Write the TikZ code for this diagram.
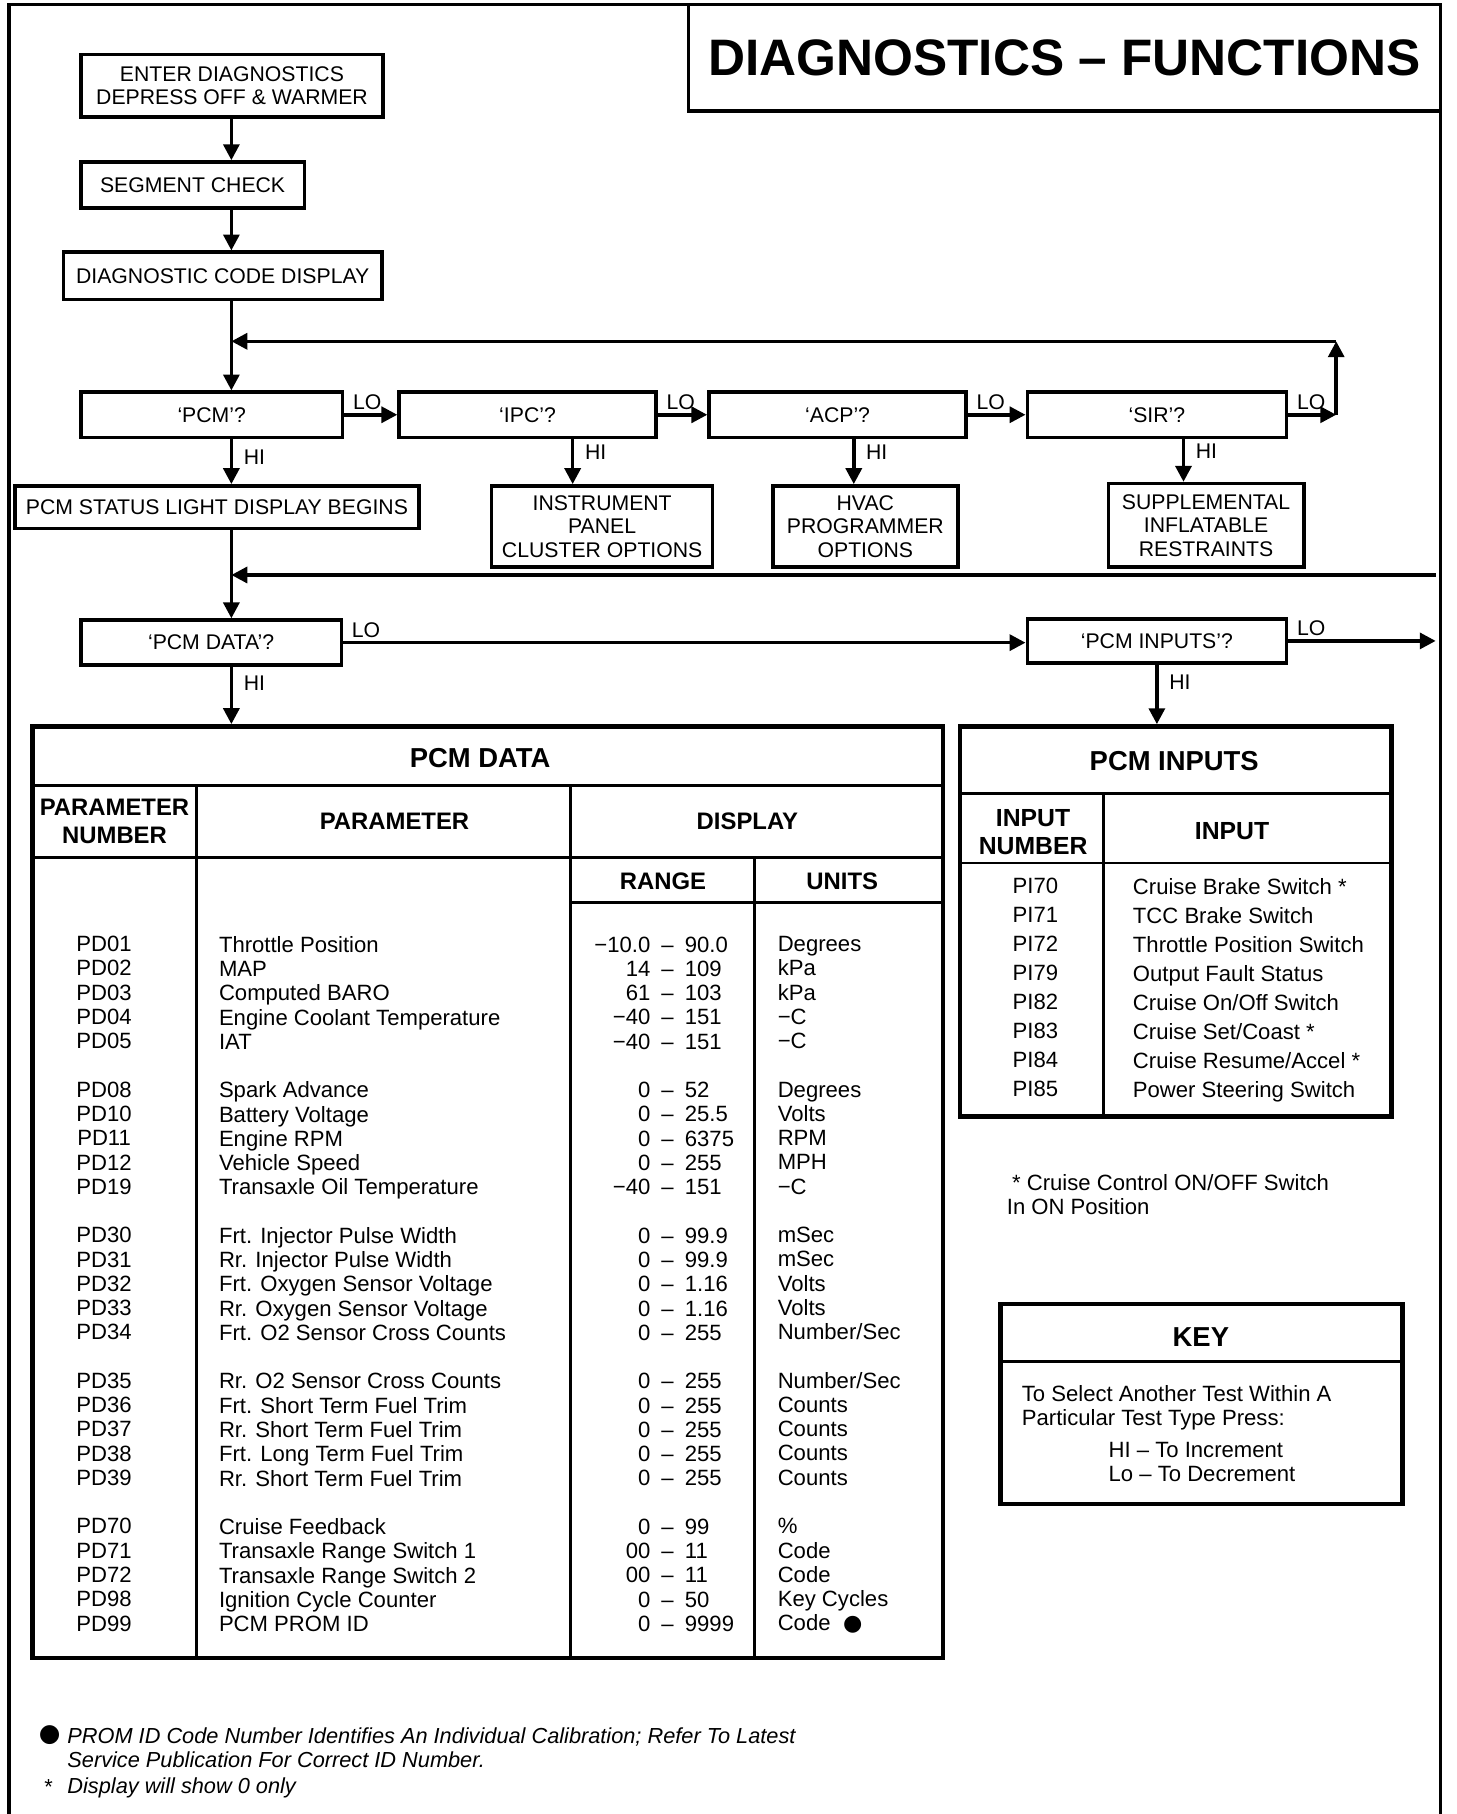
\documentclass[tikz,border=0pt]{standalone}
\usepackage{fontspec}
\setmainfont{Liberation Sans}
\newfontfamily\symfont{DejaVu Sans}
\usetikzlibrary{arrows.meta,positioning}

\begin{document}
\begin{tikzpicture}[x=0.023cm, y=-0.023cm,
  box/.style={draw, line width=2pt, inner sep=0pt, align=center, minimum height=0.897cm,
              font=\fontsize{12}{13.3}\selectfont},
  arr/.style={-{Triangle[length=9pt,width=9pt]}, line width=2pt},
  lo/.style={pos=0, anchor=south west, inner xsep=4pt, inner ysep=2pt,
             font=\fontsize{12}{13}\selectfont},
  hi/.style={pos=0.32, anchor=west, inner xsep=6pt, font=\fontsize{12}{13}\selectfont},
  tbl/.style={draw, line width=2.6pt, inner sep=0pt},
  rule/.style={line width=1.6pt},
  ttl/.style={font=\bfseries\fontsize{15.5}{18}\selectfont},
  head/.style={font=\bfseries\fontsize{13.5}{15.6}\selectfont, align=center},
  body/.style={font=\fontsize{12.5}{13.72}\selectfont, inner sep=0pt},
  note/.style={font=\fontsize{12.5}{13.7}\selectfont, inner sep=0pt, align=left}
]
  \useasboundingbox (0,0) rectangle (1259,1568);
  % page frame, open at the bottom
  \draw[line width=2pt] (8,1568) -- (8,4) -- (1245,4) -- (1245,1568);
  \node[draw, line width=2pt, minimum width=14.95cm, minimum height=2.116cm,
        font=\bfseries\fontsize{29}{32}\selectfont] (title) at (920,50) {DIAGNOSTICS – FUNCTIONS};

  % flow chart
  \node[box, minimum width=6.003cm, minimum height=1.242cm] (enter) at (200.5,74) {ENTER DIAGNOSTICS\\DEPRESS OFF \& WARMER};
  \node[box, minimum width=4.439cm, minimum height=0.92cm]  (seg)   at (166.5,160)  {SEGMENT CHECK};
  \node[box, minimum width=6.325cm, minimum height=0.943cm] (code)  at (192.5,238.5){DIAGNOSTIC CODE DISPLAY};
  \node[box, minimum width=5.198cm] (pcm) at (183,358.5)  {‘PCM’?};
  \node[box, minimum width=5.106cm] (ipc) at (456,358.5)  {‘IPC’?};
  \node[box, minimum width=5.106cm] (acp) at (724,358.5)  {‘ACP’?};
  \node[box, minimum width=5.152cm] (sir) at (1000,358.5) {‘SIR’?};
  \node[box, minimum width=8.027cm, minimum height=0.851cm] (status) at (187.5,438.5) {PCM STATUS LIGHT DISPLAY BEGINS};
  \node[box, minimum width=4.393cm, minimum height=1.61cm]  (inst)   at (520.5,455)   {INSTRUMENT\\PANEL\\CLUSTER OPTIONS};
  \node[box, minimum width=3.68cm,  minimum height=1.61cm]  (hvac)   at (748,455)     {HVAC\\PROGRAMMER\\OPTIONS};
  \node[box, minimum width=3.887cm, minimum height=1.656cm] (srs)    at (1042.5,454)  {SUPPLEMENTAL\\INFLATABLE\\RESTRAINTS};
  \node[box, minimum width=5.175cm] (pcmdata) at (182.5,555.5) {‘PCM DATA’?};
  \node[box, minimum width=5.152cm, minimum height=0.874cm] (pcmin) at (1000,554) {‘PCM INPUTS’?};

  \coordinate (spine)   at (200,0);
  \coordinate (ipcdrop) at (495,378);
  \coordinate (acpdrop) at (738,378);
  \coordinate (sirdrop) at (1023,378);
  \coordinate (sirout)  at (1155,358.5);
  \coordinate (looptop) at (1155,295);
  \coordinate (back)    at (1241,497);
  \coordinate (exit)    at (1241,554);

  % tables
  \node[tbl, minimum width=18.101cm, minimum height=18.515cm] (datatab) at (421.5,1030.5) {};
  \node[tbl, minimum width=8.579cm,  minimum height=7.751cm]  (intab)   at (1016.5,796.5) {};
  \node[tbl, minimum width=7.981cm,  minimum height=3.979cm]  (keybox)  at (1038.5,1213.5) {};

  \draw[arr] (spine |- enter.south) -- (spine |- seg.north);
  \draw[arr] (spine |- seg.south)   -- (spine |- code.north);
  \draw[arr] (spine |- code.south)  -- (spine |- pcm.north);
  \draw[arr] (pcm.east) -- node[lo]{LO} (ipc.west);
  \draw[arr] (ipc.east) -- node[lo]{LO} (acp.west);
  \draw[arr] (acp.east) -- node[lo]{LO} (sir.west);
  \draw[arr] (sir.east) -- node[lo]{LO} (sirout);
  \draw[arr] (sirout) -- (looptop);
  \draw[arr] (looptop) -- (spine |- looptop);
  \draw[arr] (spine |- pcm.south) -- node[hi, pos=0.4]{HI} (spine |- status.north);
  \draw[arr] (ipcdrop) -- node[hi]{HI} (ipcdrop |- inst.north);
  \draw[arr] (acpdrop) -- node[hi]{HI} (acpdrop |- hvac.north);
  \draw[arr] (sirdrop) -- node[hi]{HI} (sirdrop |- srs.north);
  \draw[arr] (spine |- status.south) -- (spine |- pcmdata.north);
  \draw[arr] (back) -- (spine |- back);
  \draw[arr] (pcmdata.east) -- node[lo]{LO} (pcmdata.east -| pcmin.west);
  \draw[arr] (pcmin.east) -- node[lo]{LO} (exit);
  \draw[arr] (spine |- pcmdata.south) -- node[hi, pos=0.28]{HI} (spine |- datatab.north);
  \draw[arr] (pcmin.south) -- node[hi, pos=0.3]{HI} (pcmin.south |- intab.north);

  % PCM DATA table
  \draw[rule] (28,679) -- (815,679);
  \draw[rule] (28,741) -- (815,741);
  \draw[rule] (493,780) -- (815,780);
  \draw[rule] (170,679) -- (170,1433);
  \draw[rule] (493,679) -- (493,1433);
  \draw[rule] (652,741) -- (652,1433);
  \node[ttl]  (datattl) at (415,655) {PCM DATA};
  \node[head] (pnumhd)  at (99,710)  {PARAMETER\\NUMBER};
  \node[head] (parhd)   at (341,710) {PARAMETER};
  \node[head] (disphd)  at (646,710) {DISPLAY};
  \node[head] (rangehd) at (573,762) {RANGE};
  \node[head] (unitshd) at (728,762) {UNITS};
  \node[body, anchor=north, align=center] (pnums) at (90,809)
    {PD01\\PD02\\PD03\\PD04\\PD05\\[13.72pt]PD08\\PD10\\PD11\\PD12\\PD19\\[13.72pt]%
     PD30\\PD31\\PD32\\PD33\\PD34\\[13.72pt]PD35\\PD36\\PD37\\PD38\\PD39\\[13.72pt]%
     PD70\\PD71\\PD72\\PD98\\PD99};
  \node[body, anchor=north west, align=left] (params) at (189,809)
    {Throttle Position\\MAP\\Computed BARO\\Engine Coolant Temperature\\IAT\\[13.72pt]%
     Spark Advance\\Battery Voltage\\Engine RPM\\Vehicle Speed\\Transaxle Oil Temperature\\[13.72pt]%
     Frt. Injector Pulse Width\\Rr. Injector Pulse Width\\Frt. Oxygen Sensor Voltage\\%
     Rr. Oxygen Sensor Voltage\\Frt. O2 Sensor Cross Counts\\[13.72pt]%
     Rr. O2 Sensor Cross Counts\\Frt. Short Term Fuel Trim\\Rr. Short Term Fuel Trim\\%
     Frt. Long Term Fuel Trim\\Rr. Short Term Fuel Trim\\[13.72pt]%
     Cruise Feedback\\Transaxle Range Switch 1\\Transaxle Range Switch 2\\%
     Ignition Cycle Counter\\PCM PROM ID};
  \node[body, anchor=north west] (ranges) at (513.5,808)
    {\begin{tabular}{@{}r@{\hspace{6.3pt}–\hspace{6.3pt}}l@{}}
     −10.0 & 90.0\\ 14 & 109\\ 61 & 103\\ −40 & 151\\ −40 & 151\\[13.72pt]
     0 & 52\\ 0 & 25.5\\ 0 & 6375\\ 0 & 255\\ −40 & 151\\[13.72pt]
     0 & 99.9\\ 0 & 99.9\\ 0 & 1.16\\ 0 & 1.16\\ 0 & 255\\[13.72pt]
     0 & 255\\ 0 & 255\\ 0 & 255\\ 0 & 255\\ 0 & 255\\[13.72pt]
     0 & 99\\ 00 & 11\\ 00 & 11\\ 0 & 50\\ 0 & 9999
     \end{tabular}};
  \node[body, anchor=north west, align=left] (units) at (672,809)
    {Degrees\\kPa\\kPa\\−C\\−C\\[13.72pt]Degrees\\Volts\\RPM\\MPH\\−C\\[13.72pt]%
     mSec\\mSec\\Volts\\Volts\\Number/Sec\\[13.72pt]Number/Sec\\Counts\\Counts\\Counts\\Counts\\[13.72pt]%
     \%\\Code\\Code\\Key Cycles\\Code\hspace{7pt}{\symfont ●}};

  % PCM INPUTS table
  \draw[rule] (830,686) -- (1203,686);
  \draw[rule] (830,746) -- (1203,746);
  \draw[rule] (954,686) -- (954,965);
  \node[ttl] (inttl) at (1015,658) {PCM INPUTS};
  \node[head, font=\bfseries\fontsize{14}{15.6}\selectfont] (innumhd) at (893,719) {INPUT\\NUMBER};
  \node[head, font=\bfseries\fontsize{14}{15.6}\selectfont] (inhd) at (1065,718) {INPUT};
  \node[body, font=\fontsize{12.5}{16.39}\selectfont, anchor=north, align=center] (innums) at (895,759)
    {PI70\\PI71\\PI72\\PI79\\PI82\\PI83\\PI84\\PI85};
  \node[body, font=\fontsize{12.5}{16.39}\selectfont, anchor=north west, align=left] (inputs) at (979,759)
    {Cruise Brake Switch *\\TCC Brake Switch\\Throttle Position Switch\\Output Fault Status\\%
     Cruise On/Off Switch\\Cruise Set/Coast *\\Cruise Resume/Accel *\\Power Steering Switch};
  \node[note, anchor=north west] (cruisenote) at (870,1015)
    {\hspace*{3pt}* Cruise Control ON/OFF Switch\\In ON Position};

  % key
  \draw[rule] (865,1177) -- (1212,1177);
  \node[ttl] (keyttl) at (1038,1156) {KEY};
  \node[note, anchor=north west] (keytext) at (883,1197)
    {To Select Another Test Within A\\Particular Test Type Press:};
  \node[note, anchor=north west] (keyhilo) at (958,1246)
    {HI – To Increment\\Lo – To Decrement};

  % footnotes
  \node[inner sep=0pt, font=\symfont\fontsize{14}{14}\selectfont] (dot) at (43,1500) {●};
  \node[note, font=\itshape\fontsize{12.3}{13.7}\selectfont, anchor=north west] (promnote) at (58,1493)
    {PROM ID Code Number Identifies An Individual Calibration; Refer To Latest\\Service Publication For Correct ID Number.};
  \node[inner sep=0pt, font=\fontsize{12.3}{13.7}\selectfont] (star) at (42,1545) {*};
  \node[note, font=\itshape\fontsize{12.3}{13.7}\selectfont, anchor=north west] (zeronote) at (58,1536)
    {Display will show 0 only};
\end{tikzpicture}
\end{document}
